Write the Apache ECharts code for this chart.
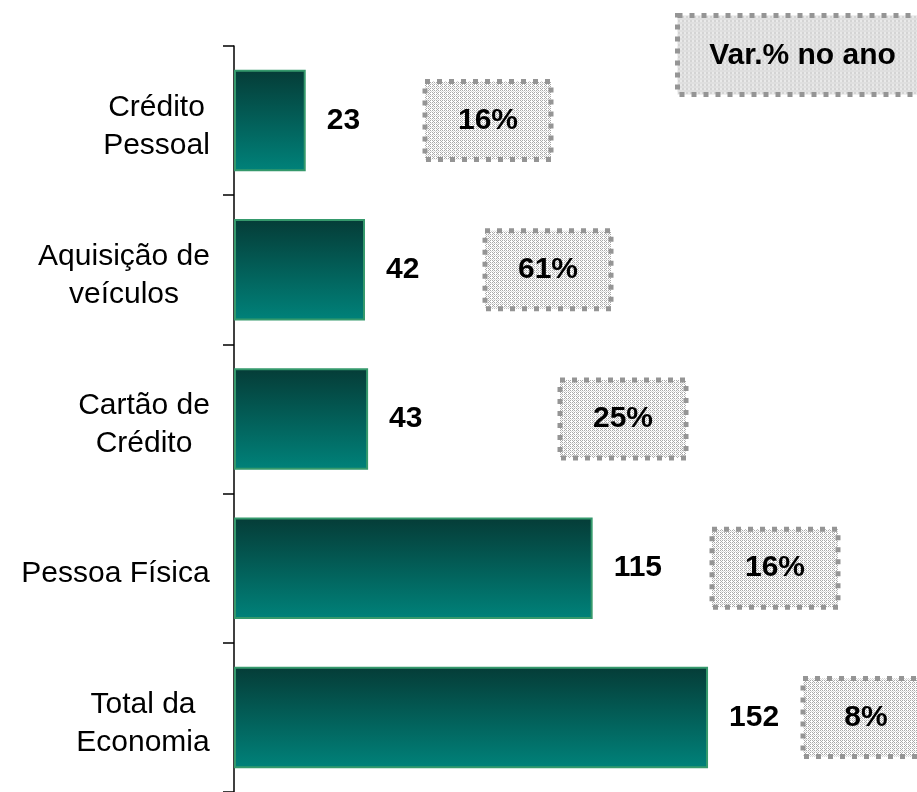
<!DOCTYPE html>
<html>
<head>
<meta charset="utf-8">
<script src="https://cdn.jsdelivr.net/npm/echarts@6/dist/echarts.min.js"></script>
<style>
  html, body { margin: 0; padding: 0; background: #fff; }
  #chart { width: 917px; height: 792px; }
</style>
</head>
<body>
<div id="chart"></div>
<script>
  // data
  var categories = ['Crédito\nPessoal', 'Aquisição de\nveículos', 'Cartão de\nCrédito', 'Pessoa Física', 'Total da\nEconomia'];
  var values = [23, 42, 43, 115, 152];
  var varPct = ['16%', '61%', '25%', '16%', '8%'];
  var varTitle = 'Var.% no ano';

  // layout of the var% boxes (pixels, left edge)
  var boxLeft = [425, 485, 560, 712, 803];
  var boxW = 126, boxH = 78;

  var FONT = '"Liberation Sans", Arial, sans-serif';

  // texture for the var% boxes
  function makeTile() {
    var c = document.createElement('canvas');
    c.width = 4; c.height = 4;
    var ctx = c.getContext('2d');
    ctx.fillStyle = '#ffffff';
    ctx.fillRect(0, 0, 4, 4);
    ctx.fillStyle = '#a9a9a9';
    ctx.fillRect(0, 0, 1, 1);
    ctx.fillRect(2, 0, 1, 1);
    ctx.fillRect(0, 2, 1, 1);
    ctx.fillRect(2, 2, 1, 1);
    ctx.fillRect(1, 1, 1, 1);
    ctx.fillStyle = '#d6d6d6';
    ctx.fillRect(3, 3, 1, 1);
    ctx.fillRect(1, 3, 1, 1);
    return c;
  }
  var tile = makeTile();
  var boxFill = { image: tile, repeat: 'repeat' };
  var boxStroke = { stroke: '#959595', lineWidth: 5, lineDash: [5, 7] };

  // per-label widths so that lines are centred inside a right aligned block
  var mctx = document.createElement('canvas').getContext('2d');
  mctx.font = '30px ' + FONT;
  var rich = {};
  categories.forEach(function (c, i) {
    var w = Math.max.apply(null, c.split('\n').map(function (l) { return mctx.measureText(l).width; }));
    rich['c' + i] = { width: Math.ceil(w), align: 'center', fontSize: 30, lineHeight: 38, color: '#000', fontFamily: FONT };
  });

  var chart = echarts.init(document.getElementById('chart'));

  var option = {
    animation: false,
    backgroundColor: '#fff',
    grid: { left: 234, right: 0, top: 46, bottom: -4 },
    xAxis: { type: 'value', min: 0, max: 219, show: false },
    yAxis: {
      type: 'category',
      inverse: true,
      data: categories,
      axisLine: { lineStyle: { color: '#000', width: 1.5 } },
      axisTick: { show: true, length: 11, lineStyle: { color: '#000', width: 1.5 } },
      axisLabel: {
        margin: 24,
        padding: [12, 0, 0, 0],
        formatter: function (v, i) {
          return v.split('\n').map(function (l) { return '{c' + i + '|' + l + '}'; }).join('\n');
        },
        rich: rich
      }
    },
    series: [
      {
        type: 'bar',
        data: values,
        barCategoryGap: '32%',
        itemStyle: {
          color: new echarts.graphic.LinearGradient(0, 0, 0, 1, [
            { offset: 0, color: '#053c37' },
            { offset: 1, color: '#00827a' }
          ]),
          borderColor: '#35996c',
          borderWidth: 2
        },
        label: {
          show: true,
          position: 'right',
          distance: 21,
          color: '#000',
          fontSize: 30,
          fontWeight: 'bold',
          fontFamily: FONT
        }
      },
      {
        type: 'custom',
        data: varPct.map(function (p, i) { return [i, p]; }),
        renderItem: function (params, api) {
          var i = api.value(0);
          var cy = api.coord([0, i])[1];
          var x = boxLeft[i];
          return {
            type: 'group',
            children: [
              {
                type: 'rect',
                shape: { x: x, y: cy - boxH / 2, width: boxW, height: boxH },
                style: Object.assign({ fill: boxFill }, boxStroke)
              },
              {
                type: 'text',
                x: x + boxW / 2,
                y: cy,
                style: {
                  text: varPct[i],
                  align: 'center',
                  verticalAlign: 'middle',
                  fill: '#000',
                  font: 'bold 30px ' + FONT
                }
              }
            ]
          };
        }
      }
    ],
    graphic: [
      {
        type: 'group',
        left: 675,
        top: 13,
        children: [
          {
            type: 'rect',
            shape: { x: 0, y: 0, width: 252, height: 79 },
            style: Object.assign({ fill: boxFill }, boxStroke)
          },
          {
            type: 'text',
            x: 125,
            y: 40,
            style: {
              text: varTitle,
              align: 'center',
              verticalAlign: 'middle',
              fill: '#000',
              font: 'bold 30px ' + FONT
            }
          }
        ]
      }
    ]
  };

  chart.setOption(option);
</script>
</body>
</html>
